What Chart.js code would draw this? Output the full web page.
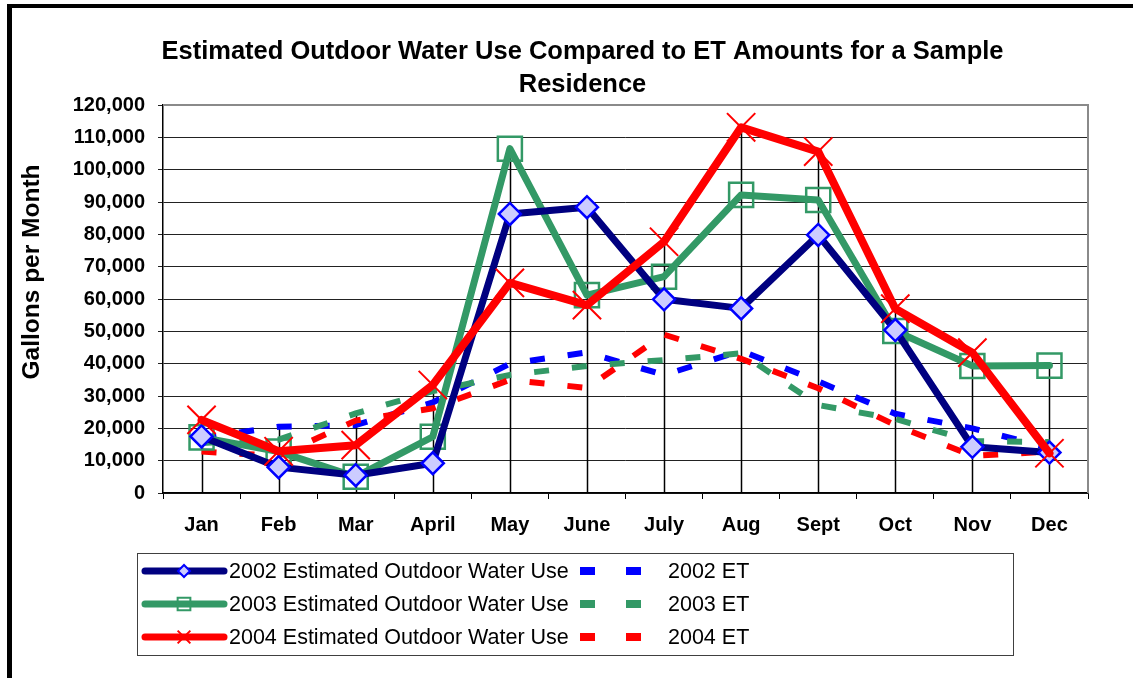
<!DOCTYPE html>
<html>
<head>
<meta charset="utf-8">
<script src="https://cdn.jsdelivr.net/npm/chart.js@4"></script>
<style>
  html, body { margin: 0; padding: 0; background: #fff; }
  #box { width: 1133px; height: 678px; position: relative; }
</style>
</head>
<body>
<div id="box"><canvas id="grafico" width="1133" height="678"></canvas></div>
<script>
// categorias e valores
const meses = ["Jan", "Feb", "Mar", "April", "May", "June", "July", "Aug", "Sept", "Oct", "Nov", "Dec"];
const uso2002 = [17500, 8000, 5500, 9200, 86300, 88400, 59900, 57100, 79800, 50400, 14300, 12500];
const uso2003 = [17200, 12800, 5000, 17400, 106500, 61200, 66900, 92200, 90600, 50100, 39300, 39400];
const uso2004 = [22600, 12900, 14800, 33400, 65000, 58100, 77700, 113100, 105600, 57000, 43400, 12300];
const et2002 = [17000, 20500, 21000, 28000, 40000, 43500, 36500, 44000, 34500, 24500, 20000, 14000];
const et2003 = [15500, 16500, 24600, 31500, 36500, 39300, 41100, 43200, 27200, 22900, 16000, 15800];
const et2004 = [12800, 11500, 22400, 26200, 35000, 32500, 49000, 41500, 32400, 21000, 11500, 12800];
const yTicks = { min: 0, max: 120000, step: 10000 };
const titulo = ["Estimated Outdoor Water Use Compared to ET Amounts for a Sample", "Residence"];

const fonte = "'Liberation Sans', Arial, sans-serif";

// linhas verticais (drop lines), moldura, titulos e legenda
const extras = {
  id: "extras",
  beforeDraw(chart) {
    const ctx = chart.ctx;
    ctx.save();
    ctx.fillStyle = "#fff";
    ctx.fillRect(0, 0, chart.width, chart.height);
    ctx.fillStyle = "#000";
    ctx.fillRect(7, 4, chart.width - 7, 4);
    ctx.fillRect(7, 4, 5, chart.height - 4);
    ctx.restore();
  },
  beforeDatasetsDraw(chart) {
    const ctx = chart.ctx;
    const x = chart.scales.x, y = chart.scales.y;
    ctx.save();
    ctx.strokeStyle = "#000";
    ctx.lineWidth = 1.5;
    meses.forEach((m, i) => {
      let maior = 0;
      chart.data.datasets.forEach(d => { maior = Math.max(maior, d.data[i]); });
      const px = Math.round(x.getPixelForValue(i)) + 0.5;
      ctx.beginPath();
      ctx.moveTo(px, y.getPixelForValue(maior));
      ctx.lineTo(px, y.getPixelForValue(0));
      ctx.stroke();
    });
    // borda cinza do lado de cima e direito
    const a = chart.chartArea;
    ctx.strokeStyle = "#8a8a8a";
    ctx.lineWidth = 2;
    ctx.beginPath();
    ctx.moveTo(a.left, a.top);
    ctx.lineTo(a.right, a.top);
    ctx.lineTo(a.right, a.bottom);
    ctx.stroke();
    ctx.restore();
  },
  afterDraw(chart) {
    const ctx = chart.ctx;
    // titulo principal
    ctx.save();
    ctx.font = "bold 25.5px " + fonte;
    ctx.fillStyle = "#000";
    ctx.textAlign = "center";
    ctx.textBaseline = "middle";
    titulo.forEach((t, i) => ctx.fillText(t, 582.5, 52 + i * 33));
    ctx.restore();

    ctx.save();
    // titulo do eixo y
    ctx.translate(32, 272);
    ctx.rotate(-Math.PI / 2);
    ctx.font = "bold 24.5px " + fonte;
    ctx.fillStyle = "#000";
    ctx.textAlign = "center";
    ctx.textBaseline = "middle";
    ctx.fillText("Gallons per Month", 0, 0);
    ctx.restore();

    // legenda
    ctx.save();
    ctx.strokeStyle = "#404040";
    ctx.lineWidth = 1;
    ctx.strokeRect(137.5, 553.5, 876, 102);
    const ds = chart.data.datasets;
    const linhas = [[ds[0], ds[3]], [ds[1], ds[4]], [ds[2], ds[5]]];
    const raios = [6, 9, 9];
    ctx.font = "21.5px " + fonte;
    ctx.textBaseline = "middle";
    ctx.textAlign = "left";
    linhas.forEach((par, r) => {
      const yy = 571 + r * 33;
      const uso = par[0], et = par[1];
      ctx.strokeStyle = uso.borderColor;
      ctx.lineWidth = 7;
      ctx.lineCap = "round";
      ctx.beginPath();
      ctx.moveTo(145, yy);
      ctx.lineTo(224, yy);
      ctx.stroke();
      ctx.fillStyle = uso.pointBackgroundColor;
      ctx.strokeStyle = uso.pointBorderColor;
      ctx.lineWidth = 2;
      ctx.lineCap = "butt";
      Chart.helpers.drawPoint(ctx, {
        pointStyle: uso.pointStyle, radius: raios[r], rotation: 0, borderWidth: 2
      }, 184, yy);
      ctx.fillStyle = "#000";
      ctx.fillText(uso.label, 229, yy + 1);
      ctx.fillStyle = et.borderColor;
      ctx.fillRect(580, yy - 4, 15, 8);
      ctx.fillRect(626, yy - 4, 15, 8);
      ctx.fillStyle = "#000";
      ctx.fillText(et.label, 668, yy + 1);
    });
    ctx.restore();
  }
};

function serieUso(label, data, cor, estilo, raio, fundo, borda, larg, ordem) {
  return {
    label: label, data: data, borderColor: cor, borderWidth: larg,
    borderCapStyle: "round", borderJoinStyle: "round",
    pointStyle: estilo, pointRadius: raio, pointBackgroundColor: fundo,
    pointBorderColor: borda, pointBorderWidth: estilo === "crossRot" ? 2 : 2.5,
    pointHoverRadius: raio, tension: 0, fill: false, order: ordem
  };
}
function serieET(label, data, cor, ordem) {
  return {
    label: label, data: data, borderColor: cor, borderWidth: 6,
    borderDash: [15, 23], borderCapStyle: "butt", pointRadius: 0,
    tension: 0, fill: false, order: ordem
  };
}

let grafico = new Chart(document.getElementById("grafico"), {
  type: "line",
  data: {
    labels: meses,
    datasets: [
      serieUso("2002 Estimated Outdoor Water Use", uso2002, "#000080", "rectRot", 11, "#CCCCFF", "#0000FF", 7, 1),
      serieUso("2003 Estimated Outdoor Water Use", uso2003, "#339966", "rect", 17, "rgba(0,0,0,0)", "#339966", 7, 2),
      serieUso("2004 Estimated Outdoor Water Use", uso2004, "#FF0000", "crossRot", 20, "#FF0000", "#FF0000", 8, 0),
      serieET("2002 ET", et2002, "#0000FF", 5),
      serieET("2003 ET", et2003, "#339966", 4),
      serieET("2004 ET", et2004, "#FF0000", 3)
    ]
  },
  options: {
    responsive: false,
    animation: false,
    devicePixelRatio: 1,
    layout: { padding: { left: 32, right: 45, top: 105, bottom: 0 } },
    plugins: {
      legend: { display: false },
      tooltip: { enabled: false },
      title: { display: false }
    },
    scales: {
      x: {
        offset: true,
        afterFit: s => { s.height = 185; },
        grid: { display: true, drawOnChartArea: false, drawTicks: true, tickLength: 6, color: "#000", offset: true },
        border: { display: true, color: "#000", width: 1.5 },
        ticks: { color: "#000", font: { family: fonte, size: 20, weight: "bold" }, padding: 14, maxRotation: 0, autoSkip: false }
      },
      y: {
        min: yTicks.min, max: yTicks.max,
        afterFit: s => { s.width = 131; },
        grid: { color: "#222", lineWidth: 1, tickLength: 5, drawTicks: true },
        border: { display: true, color: "#000", width: 1.5 },
        ticks: {
          stepSize: yTicks.step, color: "#000", padding: 13,
          font: { family: fonte, size: 20, weight: "bold" },
          callback: v => v.toLocaleString("en-US")
        }
      }
    }
  },
  plugins: [extras]
});
</script>
</body>
</html>
